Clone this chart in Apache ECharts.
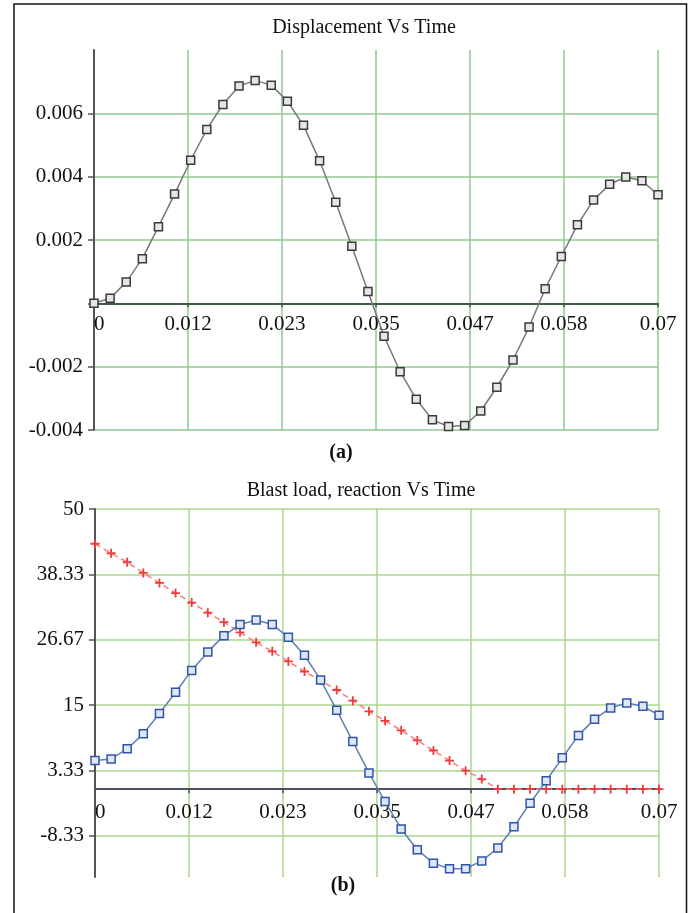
<!DOCTYPE html>
<html><head><meta charset="utf-8">
<script src="https://cdn.jsdelivr.net/npm/echarts@6/dist/echarts.min.js"></script>
<style>html,body{margin:0;padding:0;background:#fff}#c{width:691px;height:913px}</style>
</head><body><div id="c"></div>
<script>
const time = [0,0.002,0.004,0.006,0.008,0.010,0.012,0.014,0.016,0.018,0.020,0.022,0.024,0.026,0.028,0.030,0.032,0.034,0.036,0.038,0.040,0.042,0.044,0.046,0.048,0.050,0.052,0.054,0.056,0.058,0.060,0.062,0.064,0.066,0.068,0.070];
const displacement = [0,0.00016,0.00067,0.00141,0.00242,0.00345,0.00452,0.00549,0.00628,0.00686,0.00704,0.00689,0.00638,0.00562,0.0045,0.00319,0.0018,0.00037,-0.00104,-0.00216,-0.00303,-0.00368,-0.00389,-0.00386,-0.0034,-0.00265,-0.00179,-0.00075,0.00046,0.00148,0.00248,0.00326,0.00376,0.00399,0.00387,0.00343];
const reaction = [5.1,5.4,7.2,9.9,13.5,17.3,21.2,24.5,27.4,29.4,30.2,29.4,27.1,23.9,19.5,14.1,8.5,2.9,-2.2,-7.1,-10.8,-13.2,-14.2,-14.2,-12.8,-10.5,-6.7,-2.5,1.5,5.6,9.6,12.5,14.5,15.4,14.8,13.2];
const blastLoad = [43.8,42.1,40.5,38.6,36.8,35.0,33.3,31.5,29.8,28.0,26.2,24.6,22.8,21.0,19.4,17.7,15.8,13.9,12.2,10.5,8.7,6.9,5.1,3.3,1.8,0,0,0,0,0,0,0,0,0,0,0];
const xTickValues = [0,0.0116667,0.0233333,0.035,0.0466667,0.0583333,0.07];
const xTickLabels = ['0','0.012','0.023','0.035','0.047','0.058','0.07'];
const dispTickValues = [-0.004,-0.002,0,0.002,0.004,0.006];
const dispTickLabels = ['-0.004','-0.002','','0.002','0.004','0.006'];
const forceTickValues = [-8.33,3.33,15,26.67,38.33,50];
const forceTickLabels = ['-8.33','3.33','15','26.67','38.33','50'];

function lookup(vals, labels){
  return function(v){
    const i = vals.findIndex(t => Math.abs(t - v) < 1e-6 * Math.max(1, Math.abs(t)));
    return i >= 0 ? labels[i] : '';
  };
}
const FONT = 'Liberation Serif';
const labelStyle = {fontFamily: FONT, fontSize: 21, color: '#111'};

const grids = [
  {left: 94, top: 50, width: 564, height: 380, yMin: -0.004, yMax: 0.008, xMargin: 11},
  {left: 95, top: 509, width: 564, height: 368, yMin: -15.67, yMax: 50, xMargin: 13}
];

function xAxisCfg(gridIndex, gridColor, axisColor){
  const g = grids[gridIndex];
  // place the horizontal axis (line, ticks, labels) at value 0 of the y scale
  const zeroOffset = -(0 - g.yMin) / (g.yMax - g.yMin) * g.height;
  return {
    type: 'value', gridIndex, min: 0, max: 0.07, position: 'bottom', offset: zeroOffset,
    axisLine: {show: true, onZero: false, lineStyle: {color: axisColor, width: 2}},
    axisTick: {show: true, customValues: xTickValues, length: 4, lineStyle: {color: axisColor, width: 1.5}},
    axisLabel: Object.assign({customValues: xTickValues, formatter: lookup(xTickValues, xTickLabels), margin: g.xMargin, alignMinLabel: 'left'}, labelStyle),
    splitLine: {show: true, lineStyle: {color: gridColor, width: 1.5}}
  };
}
function yAxisCfg(gridIndex, vals, labels, gridColor){
  const g = grids[gridIndex];
  return {
    type: 'value', gridIndex, min: g.yMin, max: g.yMax,
    axisLine: {show: true, onZero: false, lineStyle: {color: '#555', width: 2}},
    axisTick: {show: true, customValues: vals, length: 6, lineStyle: {color: '#555', width: 1.5}},
    axisLabel: Object.assign({customValues: vals, formatter: lookup(vals, labels), margin: 11}, labelStyle),
    splitLine: {show: true, lineStyle: {color: gridColor, width: 1.5}}
  };
}
const plus = 'path://M4,0 L6,0 L6,4 L10,4 L10,6 L6,6 L6,10 L4,10 L4,6 L0,6 L0,4 L4,4 Z';

const chart = echarts.init(document.getElementById('c'), null, {renderer: 'canvas'});
chart.setOption({
  animation: false,
  backgroundColor: '#fff',
  title: [
    {text: 'Displacement Vs Time', left: 364, top: 18, textAlign: 'center', padding: 0,
     textStyle: {fontFamily: FONT, fontSize: 20, fontWeight: 'normal', color: '#111'}},
    {text: 'Blast load, reaction Vs Time', left: 361, top: 481, textAlign: 'center', padding: 0,
     textStyle: {fontFamily: FONT, fontSize: 20, fontWeight: 'normal', color: '#111'}}
  ],
  grid: grids.map(g => ({left: g.left, top: g.top, width: g.width, height: g.height, containLabel: false})),
  xAxis: [xAxisCfg(0, '#92c892', '#3f5a3f'), xAxisCfg(1, '#add58c', '#4b5060')],
  yAxis: [
    yAxisCfg(0, dispTickValues, dispTickLabels, '#92c892'),
    yAxisCfg(1, forceTickValues, forceTickLabels, '#add58c')
  ],
  graphic: [
    {type: 'rect', shape: {x: 14, y: 4, width: 672.5, height: 1000}, style: {fill: 'none', stroke: '#111', lineWidth: 1.5}, silent: true},
    {type: 'text', x: 341, y: 453, style: {text: '(a)', font: 'bold 20px "Liberation Serif"', fill: '#111', textAlign: 'center', textVerticalAlign: 'middle'}},
    {type: 'text', x: 343, y: 886, style: {text: '(b)', font: 'bold 20px "Liberation Serif"', fill: '#111', textAlign: 'center', textVerticalAlign: 'middle'}}
  ],
  series: [
    {name: 'Displacement', type: 'line', xAxisIndex: 0, yAxisIndex: 0,
     data: time.map((t, i) => [t, displacement[i]]),
     symbol: 'rect', symbolSize: 8, showAllSymbol: true,
     lineStyle: {color: '#777', width: 1.5},
     itemStyle: {color: '#e6e6e6', borderColor: '#3a3a3a', borderWidth: 1.5}},
    {name: 'Blast load', type: 'line', xAxisIndex: 1, yAxisIndex: 1,
     data: time.map((t, i) => [t, blastLoad[i]]),
     symbol: plus, symbolSize: 9, showAllSymbol: true,
     lineStyle: {color: '#ff7b7b', width: 1.5, type: [6, 4]},
     itemStyle: {color: '#ee3b3b'}},
    {name: 'Reaction', type: 'line', xAxisIndex: 1, yAxisIndex: 1,
     data: time.map((t, i) => [t, reaction[i]]),
     symbol: 'rect', symbolSize: 8, showAllSymbol: true,
     lineStyle: {color: '#5f7fb5', width: 1.5},
     itemStyle: {color: '#dfe6f5', borderColor: '#2f55a5', borderWidth: 1.5}}
  ]
});
</script></body></html>
